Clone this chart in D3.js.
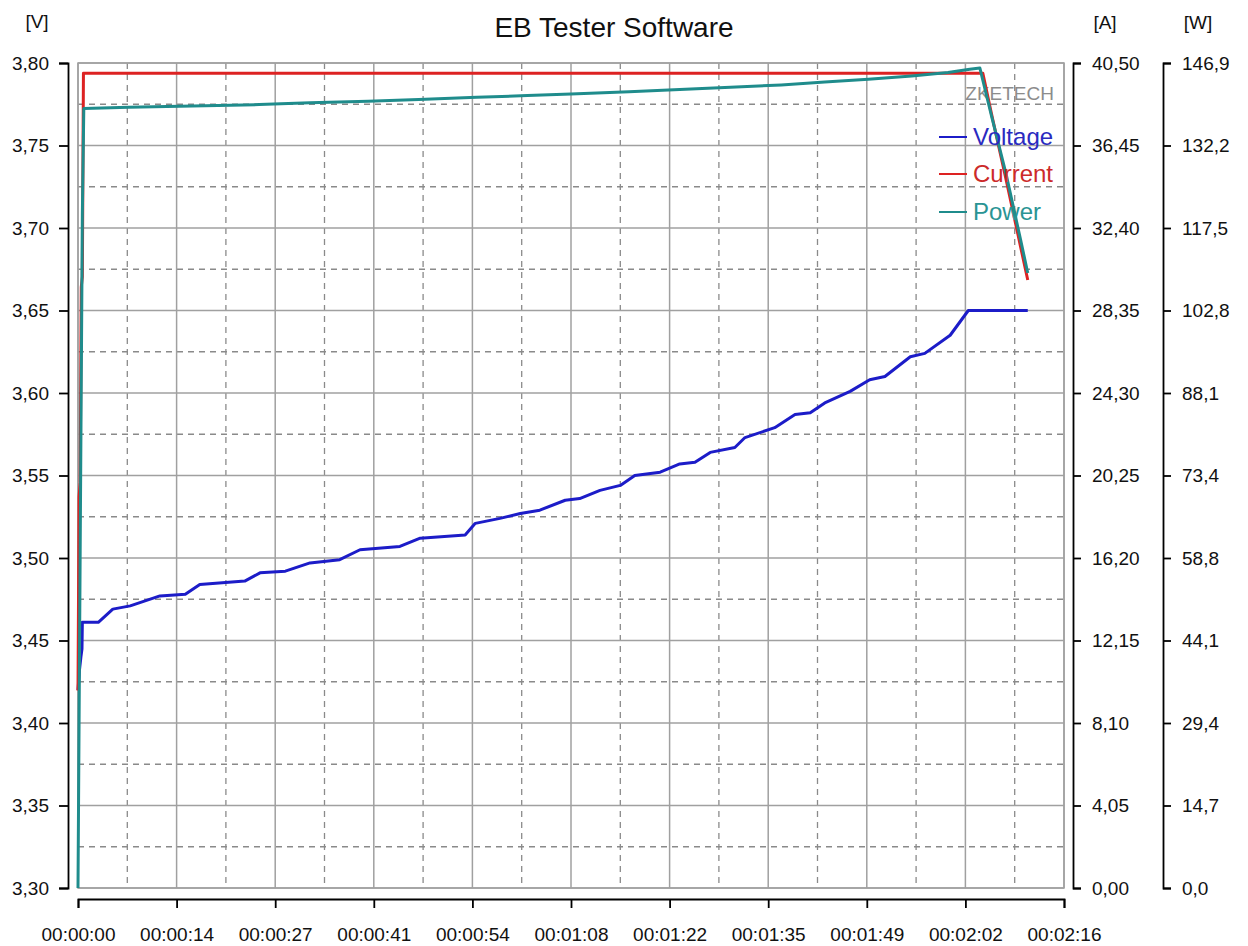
<!DOCTYPE html>
<html>
<head>
<meta charset="utf-8">
<script src="https://cdn.jsdelivr.net/npm/d3@7/dist/d3.min.js"></script>
<style>
  html, body { margin: 0; padding: 0; background: #fff; }
  svg { display: block; }
  text { font-family: "Liberation Sans", Arial, sans-serif; }
</style>
</head>
<body>
<svg id="chart" width="1248" height="946"></svg>
<script>
// ---------- data ----------
const timeTickValues = [0, 13.6, 27.2, 40.8, 54.4, 68, 81.6, 95.2, 108.8, 122.4, 136];
const timeTickLabels = ["00:00:00","00:00:14","00:00:27","00:00:41","00:00:54","00:01:08","00:01:22","00:01:35","00:01:49","00:02:02","00:02:16"];
const voltTickValues = [3.30,3.35,3.40,3.45,3.50,3.55,3.60,3.65,3.70,3.75,3.80];
const voltTickLabels = ["3,30","3,35","3,40","3,45","3,50","3,55","3,60","3,65","3,70","3,75","3,80"];
const ampTickValues = [0,4.05,8.10,12.15,16.20,20.25,24.30,28.35,32.40,36.45,40.50];
const ampTickLabels = ["0,00","4,05","8,10","12,15","16,20","20,25","24,30","28,35","32,40","36,45","40,50"];
const wattTickValues = [0,14.69,29.38,44.07,58.76,73.45,88.14,102.83,117.52,132.21,146.9];
const wattTickLabels = ["0,0","14,7","29,4","44,1","58,8","73,4","88,1","102,8","117,5","132,2","146,9"];

// time in seconds
const voltageT = [0,0.2,0.4,0.55,0.6,2.8,4.8,7.2,11.3,14.8,16.8,23.0,25.1,28.6,32.0,36.1,38.9,44.4,47.2,53.4,54.8,58.2,61.0,63.7,67.2,69.2,72.0,74.8,76.8,80.3,83.0,85.1,87.2,90.6,92.0,96.1,98.9,101.0,103.0,106.5,109.2,111.3,114.8,116.8,120.3,122.8,131.0];
const voltageV = [3.420,3.432,3.440,3.445,3.461,3.461,3.469,3.471,3.477,3.478,3.484,3.486,3.491,3.492,3.497,3.499,3.505,3.507,3.512,3.514,3.521,3.524,3.527,3.529,3.535,3.536,3.541,3.544,3.550,3.552,3.557,3.558,3.564,3.567,3.573,3.579,3.587,3.588,3.594,3.601,3.608,3.610,3.622,3.624,3.635,3.650,3.650];

const currentT = [0,0.15,0.3,0.45,0.6,0.75,124.8,126.0,128.0,130.0,131.0];
const currentA = [9.7,19.2,19.9,29.5,30.0,40.0,40.0,38.0,34.8,31.5,29.85];

const powerT = [0,0.3,0.6,0.8,7,14,25,32,40,47,55,62,68,76,83,90,97,103,109,115,120,123,124.4,126.0,128.0,130.0,131.0];
const powerW = [0,60,120,138.8,139.0,139.2,139.5,139.8,140.1,140.4,140.8,141.1,141.4,141.8,142.2,142.6,143.0,143.5,144.0,144.6,145.2,145.8,146.0,137.5,127.2,115.5,109.5];

const seriesNames = ["Voltage","Current","Power"];
const seriesColors = ["#1c1cc8","#dd2222","#1f8c8c"];
const legendTextColors = ["#2a2ac0","#cc2a2a","#2a9494"];

// ---------- layout ----------
const svg = d3.select("#chart");
const L = 78, R = 1064, T = 63, B = 888;

const x = d3.scaleLinear().domain([0,136]).range([L,R]);
const yV = d3.scaleLinear().domain([3.30,3.80]).range([B,T]);
const yA = d3.scaleLinear().domain([0,40.5]).range([B,T]);
const yW = d3.scaleLinear().domain([0,146.9]).range([B,T]);

const FONT = 19;

// grid
const g = svg.append("g");
const xMinor = d3.range(timeTickValues.length-1).map(i => (timeTickValues[i]+timeTickValues[i+1])/2);
const yMinor = d3.range(voltTickValues.length-1).map(i => (voltTickValues[i]+voltTickValues[i+1])/2);
g.selectAll(".vmin").data(xMinor).join("line")
  .attr("x1", d=>x(d)).attr("x2", d=>x(d)).attr("y1", T).attr("y2", B)
  .attr("stroke", "#8a8a8a").attr("stroke-width", 1.3).attr("stroke-dasharray", "6,5");
g.selectAll(".hmin").data(yMinor).join("line")
  .attr("y1", d=>yV(d)).attr("y2", d=>yV(d)).attr("x1", L).attr("x2", R)
  .attr("stroke", "#8a8a8a").attr("stroke-width", 1.3).attr("stroke-dasharray", "6,5");
g.selectAll(".vmaj").data(timeTickValues).join("line")
  .attr("x1", d=>x(d)).attr("x2", d=>x(d)).attr("y1", T).attr("y2", B)
  .attr("stroke", "#a0a0a0").attr("stroke-width", 1.5);
g.selectAll(".hmaj").data(voltTickValues).join("line")
  .attr("y1", d=>yV(d)).attr("y2", d=>yV(d)).attr("x1", L).attr("x2", R)
  .attr("stroke", "#a0a0a0").attr("stroke-width", 1.5);
svg.append("rect").attr("x", L).attr("y", T).attr("width", R-L).attr("height", B-T)
  .attr("fill", "none").attr("stroke", "#a0a0a0").attr("stroke-width", 1.5);

// axes
function styleAxis(sel) {
  sel.select(".domain").attr("stroke", "#000").attr("stroke-width", 1.8);
  sel.selectAll(".tick line").attr("stroke", "#000").attr("stroke-width", 1.8);
  sel.selectAll(".tick text").attr("fill", "#111").style("font-size", FONT + "px")
     .style("font-family", "'Liberation Sans', Arial, sans-serif");
}

const axV = d3.axisLeft(yV).tickValues(voltTickValues).tickFormat((d,i)=>voltTickLabels[i])
  .tickSizeInner(9).tickSizeOuter(9).tickPadding(10);
svg.append("g").attr("transform", "translate(68,0)").call(axV).call(styleAxis);

const axA = d3.axisRight(yA).tickValues(ampTickValues).tickFormat((d,i)=>ampTickLabels[i])
  .tickSizeInner(8).tickSizeOuter(8).tickPadding(11);
svg.append("g").attr("transform", "translate(1073,0)").call(axA).call(styleAxis);

const axW = d3.axisRight(yW).tickValues(wattTickValues).tickFormat((d,i)=>wattTickLabels[i])
  .tickSizeInner(8).tickSizeOuter(8).tickPadding(11);
svg.append("g").attr("transform", "translate(1163,0)").call(axW).call(styleAxis);

const axT = d3.axisBottom(x).tickValues(timeTickValues).tickFormat((d,i)=>timeTickLabels[i])
  .tickSizeInner(9).tickSizeOuter(9).tickPadding(20);
svg.append("g").attr("transform", "translate(0,899)").call(axT).call(styleAxis);

// units + title
svg.append("text").attr("x", 37).attr("y", 28).attr("text-anchor","middle")
  .style("font-size", "19px").attr("fill","#111").text("[V]");
svg.append("text").attr("x", 1105).attr("y", 29).attr("text-anchor","middle")
  .style("font-size", "19px").attr("fill","#111").text("[A]");
svg.append("text").attr("x", 1198).attr("y", 29).attr("text-anchor","middle")
  .style("font-size", "19px").attr("fill","#111").text("[W]");
svg.append("text").attr("x", 614).attr("y", 37).attr("text-anchor","middle")
  .style("font-size", "28px").attr("fill","#111").text("EB Tester Software");

// watermark
svg.append("text").attr("x", 1054).attr("y", 100).attr("text-anchor","end")
  .style("font-size", "19px").attr("fill","#8c8c8c").text("ZKETECH");

// lines
const mk = (ts, vs) => ts.map((t,i)=>[t, vs[i]]);
const lineV = d3.line().x(d=>x(d[0])).y(d=>yV(d[1]));
const lineA = d3.line().x(d=>x(d[0])).y(d=>yA(d[1]));
const lineW = d3.line().x(d=>x(d[0])).y(d=>yW(d[1]));

svg.append("path").datum(mk(voltageT, voltageV)).attr("d", lineV)
  .attr("fill","none").attr("stroke", seriesColors[0]).attr("stroke-width", 3).attr("stroke-linejoin","round");
svg.append("path").datum(mk(currentT, currentA)).attr("d", lineA)
  .attr("fill","none").attr("stroke", seriesColors[1]).attr("stroke-width", 3).attr("stroke-linejoin","round");
svg.append("path").datum(mk(powerT, powerW)).attr("d", lineW)
  .attr("fill","none").attr("stroke", seriesColors[2]).attr("stroke-width", 3).attr("stroke-linejoin","round");

// legend
const legY = [137, 174, 212];
const leg = svg.append("g");
seriesNames.forEach((n,i) => {
  leg.append("line").attr("x1", 939).attr("x2", 967).attr("y1", legY[i]).attr("y2", legY[i])
    .attr("stroke", seriesColors[i]).attr("stroke-width", 2);
  leg.append("text").attr("x", 973).attr("y", legY[i] + 8)
    .style("font-size", "24px").attr("fill", legendTextColors[i]).text(n);
});
</script>
</body>
</html>
